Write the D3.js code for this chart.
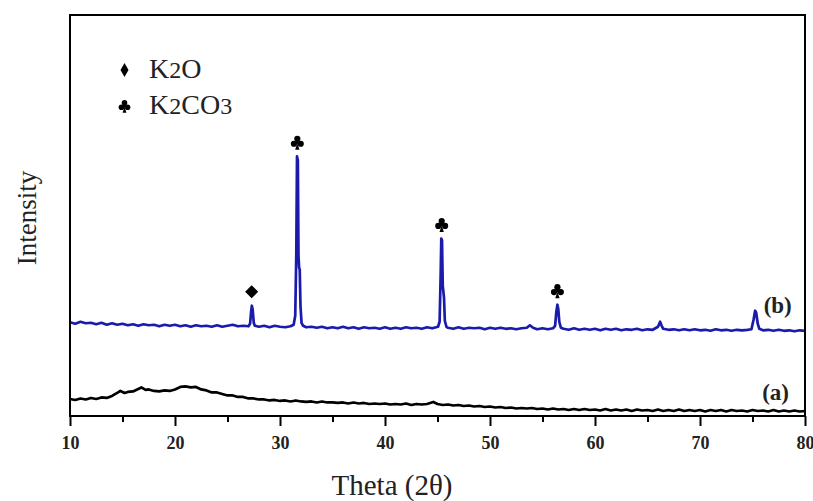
<!DOCTYPE html>
<html>
<head>
<meta charset="utf-8">
<script src="https://cdn.jsdelivr.net/npm/d3@7"></script>
<style>
  body { margin: 0; background: #fff; }
</style>
</head>
<body>
<script>
// XRD patterns: [2theta, intensity (a.u.)]
var patternA = [
  [10,17],[10.5,16],[11,17.5],[11.5,16.5],[12,18],[12.5,17],[13,18.5],[13.5,18],[14,20],[14.5,23],
  [14.8,25],[15.2,23],[15.5,24],[16,24.5],[16.5,27],[16.8,28.5],[17.2,26],[17.5,26.5],[18,25],[18.5,24.5],
  [19,25.5],[19.5,25],[20,26.5],[20.5,29],[21,29.5],[21.5,28.5],[22,29],[22.5,26.5],[23,25.5],[23.5,23.5],
  [24,23.5],[24.5,22],[25,20.5],[25.5,20.5],[26,19],[26.5,19],[27,17.5],[27.5,17.5],[28,16.5],[28.5,16.5],
  [29,15.5],[29.5,16],[30,15],[30.5,15.5],[31,14.5],[31.5,15.5],[32,14.5],[32.5,14],[33,14.5],[33.5,13.5],
  [34,14.5],[34.5,13.5],[35,13.5],[35.5,13],[36,13.5],[36.5,12.5],[37,13.5],[37.5,12.5],[38,13],[38.5,12],
  [39,12.5],[39.5,12],[40,12.5],[40.5,11.5],[41,12],[41.5,11.5],[42,12.5],[42.5,11],[43,12],[43.5,11.5],
  [44,12],[44.6,14],[45,12],[45.5,11],[46,11.5],[46.5,10.5],[47,11],[47.5,10],[48,10.5],[48.5,9.5],
  [49,10],[49.5,9],[50,9.5],[50.5,8.5],[51,9],[51.5,8],[52,8.5],[52.5,7.5],[53,8],[53.5,7.5],
  [54,8],[54.5,7],[55,7.5],[55.5,6.5],[56,7.5],[56.5,6.5],[57,7],[57.5,6],[58,7],[58.5,6],
  [59,7],[59.5,6],[60,6.5],[60.5,5.5],[61,7],[61.5,5.5],[62,6.5],[62.5,5.5],[63,6.5],[63.5,5],
  [64,6.5],[64.5,5.5],[65,6],[65.5,5],[66,6.5],[66.5,5],[67,6],[67.5,5],[68,6.5],[68.5,5],
  [69,6],[69.5,5],[70,6],[70.5,4.5],[71,6],[71.5,5],[72,6],[72.5,4.5],[73,6],[73.5,5],
  [74,5.5],[74.5,4.5],[75,6],[75.5,5],[76,5.5],[76.5,4.5],[77,6],[77.5,4.5],[78,5.5],[78.5,4.5],
  [79,5.5],[79.5,4.5],[80,5]
];

var patternB = [
  [10,93.5],[10.5,92],[11,94],[11.5,92.5],[12,93],[12.5,91.5],[13,93],[13.5,91],[14,92.5],[14.5,91],
  [15,92],[15.5,90.5],[16,91.5],[16.5,90],[17,91.5],[17.5,90.5],[18,91],[18.5,89.5],[19,91],[19.5,90],
  [20,91],[20.5,89.5],[21,90.5],[21.5,89],[22,90.5],[22.5,89.5],[23,90],[23.5,89],[24,90.5],[24.5,89],
  [25,90],[25.5,91],[26,89.5],[26.5,90],[27,89.5],[27.15,92],[27.25,104],[27.32,110],[27.4,106],[27.5,93],
  [27.6,90],[28,89],[28.5,90],[29,88.5],[29.5,90],[30,89],[30.5,88.5],[31,89.5],[31.3,91],[31.45,100],
  [31.55,160],[31.62,259],[31.7,255],[31.76,160],[31.82,148],[31.88,146],[31.95,110],[32.05,93],[32.2,90],[32.5,88.5],
  [33,89],[33.5,88],[34,89],[34.5,87.5],[35,88.5],[35.5,87.5],[36,89],[36.5,87.5],[37,88.5],[37.5,87],
  [38,88.5],[38.5,87.5],[39,88],[39.5,87],[40,88.5],[40.5,87],[41,88],[41.5,87],[42,88.5],[42.5,87.5],
  [43,88],[43.5,87],[44,88.5],[44.5,87.5],[45.05,89],[45.2,94],[45.3,140],[45.36,177],[45.43,175],[45.5,130],
  [45.56,124],[45.62,118],[45.7,95],[45.85,89],[46,88],[46.5,87],[47,88.5],[47.5,87],[48,88],[48.5,87.5],
  [49,88],[49.5,86.5],[50,88],[50.5,87],[51,88],[51.5,87],[52,87.5],[52.5,86.5],[53,87.5],[53.5,88],
  [53.8,90.5],[54.1,88],[54.5,86.5],[55,87.5],[55.5,86.5],[56,87.5],[56.2,90],[56.32,104],[56.42,111],[56.5,107],
  [56.6,94],[56.75,88],[57,87],[57.5,86],[58,87.5],[58.5,86],[59,87],[59.5,86],[60,87],[60.5,85.5],
  [61,87],[61.5,86],[62,87],[62.5,85.5],[63,86.5],[63.5,86],[64,87],[64.5,85.5],[65,86.5],[65.5,86],
  [66,89],[66.2,94],[66.35,90],[66.5,87],[67,86],[67.5,86.5],[68,85.5],[68.5,86.5],[69,85.5],[69.5,86.5],
  [70,85.5],[70.5,86],[71,85],[71.5,86.5],[72,85.5],[72.5,86],[73,85],[73.5,86],[74,85.5],[74.5,86],
  [74.9,86.5],[75.1,96],[75.25,105],[75.35,103],[75.5,92],[75.65,87],[76,85.5],[76.5,86],[77,85],[77.5,86],
  [78,85],[78.5,85.5],[79,84.5],[79.5,85.5],[80,85]
];

// phase markers above the peaks
var peakTheta = [27.3, 31.65, 45.4, 56.42];
var peakPhase = ['K2O', 'K2CO3', 'K2CO3', 'K2CO3'];
var peakHeight = [110, 259, 177, 111];

var legendPhases = ['K2O', 'K2CO3'];
var curveNames = ['(b)', '(a)'];
var curveLabelTheta = [77.4, 77.2];
var curveLabelInt = [103, 16];

var xTicks = [10, 20, 30, 40, 50, 60, 70, 80];
var xMinorTicks = [15, 25, 35, 45, 55, 65, 75];

var width = 813, height = 501;
var margin = {left: 70, right: 8, top: 15, bottom: 85};

var svg = d3.select('body')
  .append('svg')
  .attr('width', width)
  .attr('height', height);

var x = d3.scaleLinear().domain([10, 80]).range([margin.left, width - margin.right]);
var y = d3.scaleLinear().domain([0, 400]).range([height - margin.bottom, margin.top]);

var serif = '"Liberation Serif", "Times New Roman", serif';

var line = d3.line()
  .x(function(d) { return x(d[0]); })
  .y(function(d) { return y(d[1]); });

svg.append('path')
  .datum(patternA)
  .attr('d', line)
  .attr('fill', 'none')
  .attr('stroke', '#000')
  .attr('stroke-width', 2.7)
  .attr('stroke-linejoin', 'round');

svg.append('path')
  .datum(patternB)
  .attr('d', line)
  .attr('fill', 'none')
  .attr('stroke', '#1a1aad')
  .attr('stroke-width', 2.7)
  .attr('stroke-linejoin', 'round');

// frame
svg.append('rect')
  .attr('x', x(10))
  .attr('y', y(400))
  .attr('width', x(80) - x(10))
  .attr('height', y(0) - y(400))
  .attr('fill', 'none')
  .attr('stroke', '#000')
  .attr('stroke-width', 2);

// bottom axis
var xAxis = svg.append('g')
  .attr('transform', 'translate(0,' + y(0) + ')')
  .call(d3.axisBottom(x).tickValues(xTicks).tickSize(10).tickPadding(10).tickFormat(d3.format('d')));
xAxis.select('.domain').remove();
xAxis.selectAll('line').attr('stroke-width', 2);
xAxis.selectAll('text')
  .attr('font-family', serif)
  .attr('font-weight', 'bold')
  .attr('font-size', 18)
  .attr('fill', '#222');

svg.append('g')
  .attr('transform', 'translate(0,' + y(0) + ')')
  .call(d3.axisBottom(x).tickValues(xMinorTicks).tickSize(6).tickFormat(''))
  .call(function(g) { g.select('.domain').remove(); })
  .selectAll('line').attr('stroke-width', 2);

// axis titles
svg.append('text')
  .attr('x', 392)
  .attr('y', 495)
  .attr('text-anchor', 'middle')
  .attr('font-family', serif)
  .attr('font-size', 29)
  .attr('fill', '#222')
  .text('Theta (2θ)');

svg.append('text')
  .attr('transform', 'translate(36,218) rotate(-90)')
  .attr('text-anchor', 'middle')
  .attr('font-family', serif)
  .attr('font-size', 27)
  .attr('fill', '#222')
  .text('Intensity');

// marker glyphs: diamond for K2O, club for K2CO3
function drawMark(g, phase, cx, cy, big) {
  if (phase == 'K2O') {
    var w = big ? 6.5 : 4, h = big ? 6.5 : 7;
    g.append('path')
      .attr('d', 'M' + cx + ',' + (cy - h) + 'L' + (cx + w) + ',' + cy + 'L' + cx + ',' + (cy + h) + 'L' + (cx - w) + ',' + cy + 'Z')
      .attr('fill', '#000');
  } else {
    var r = big ? 3.1 : 2.8;
    var club = g.append('g').attr('transform', 'translate(' + cx + ',' + cy + ')');
    [[0, -r * 1.15], [-r * 1.1, r * 0.45], [r * 1.1, r * 0.45]].forEach(function(c) {
      club.append('circle').attr('cx', c[0]).attr('cy', c[1]).attr('r', r).attr('fill', '#000');
    });
    club.append('rect').attr('x', -r * 0.5).attr('y', -r * 0.5).attr('width', r).attr('height', r).attr('fill', '#000');
    club.append('path')
      .attr('d', 'M0,' + (r * 0.3) + 'L' + (r * 0.7) + ',' + (r * 2.4) + 'L' + (-r * 0.7) + ',' + (r * 2.4) + 'Z')
      .attr('fill', '#000');
  }
}

var marks = svg.append('g');
peakTheta.forEach(function(t, i) {
  drawMark(marks, peakPhase[i], x(t), y(peakHeight[i]) - 14, true);
});

// legend
var legend = svg.append('g');
legendPhases.forEach(function(p, i) {
  var ly = 70 + i * 36;
  drawMark(legend, p, 124.5, ly, false);
  var t = legend.append('text')
    .attr('x', 149)
    .attr('y', ly + 8)
    .attr('font-family', serif)
    .attr('font-size', 28)
    .attr('fill', '#222');
  t.append('tspan').text('K');
  t.append('tspan').attr('font-size', 24).text('2');
  t.append('tspan').text(p.slice(2, p.length - (p == 'K2CO3' ? 1 : 0)));
  if (p == 'K2CO3') t.append('tspan').attr('font-size', 24).text('3');
});

// curve labels
svg.selectAll('.clabel')
  .data(curveNames)
  .enter()
  .append('text')
  .attr('class', 'clabel')
  .attr('x', function(d, i) { return x(curveLabelTheta[i]); })
  .attr('y', function(d, i) { return y(curveLabelInt[i]); })
  .attr('text-anchor', 'middle')
  .attr('font-family', serif)
  .attr('font-weight', 'bold')
  .attr('font-size', 23)
  .attr('fill', '#222')
  .text(function(d) { return d; });
</script>
</body>
</html>
